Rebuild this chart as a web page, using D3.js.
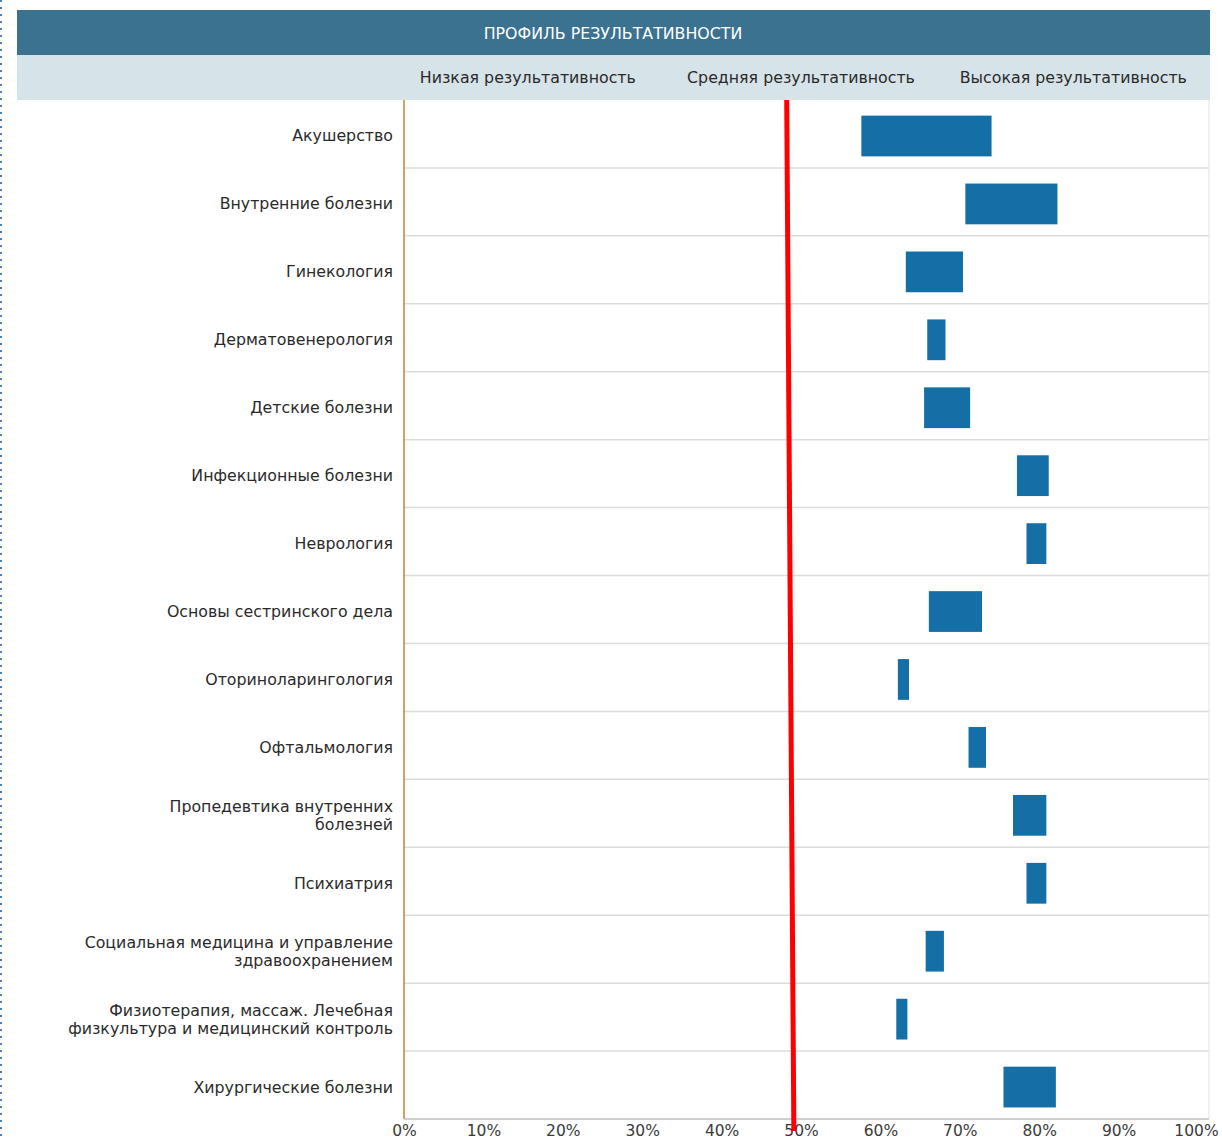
<!DOCTYPE html>
<html>
<head>
<meta charset="utf-8">
<script src="https://cdn.jsdelivr.net/npm/d3@7"></script>
<style>
  body { margin: 0; background: #fff; }
  text { font-family: "DejaVu Sans", sans-serif; }
</style>
</head>
<body>
<div id="chart"></div>
<script>
// Chart data
const title = "ПРОФИЛЬ РЕЗУЛЬТАТИВНОСТИ";
const bandLabels = ["Низкая результативность", "Средняя результативность", "Высокая результативность"];
const categories = [
    "Акушерство",
    "Внутренние болезни",
    "Гинекология",
    "Дерматовенерология",
    "Детские болезни",
    "Инфекционные болезни",
    "Неврология",
    "Основы сестринского дела",
    "Оториноларингология",
    "Офтальмология",
    "Пропедевтика внутренних\nболезней",
    "Психиатрия",
    "Социальная медицина и управление\nздравоохранением",
    "Физиотерапия, массаж. Лечебная\nфизкультура и медицинский контроль",
    "Хирургические болезни"
];
const lowValues  = [57.6, 70.7, 63.2, 65.9, 65.5, 77.2, 78.4, 66.1, 62.2, 71.1, 76.7, 78.4, 65.7, 62.0, 75.5];
const highValues = [74.0, 82.3, 70.4, 68.2, 71.3, 81.2, 80.9, 72.8, 63.6, 73.3, 80.9, 80.9, 68.0, 63.4, 82.1];
const tickValues = [0, 10, 20, 30, 40, 50, 60, 70, 80, 90, 100];
// hand-drawn threshold line (top and bottom ends, %)
const markerValues = [48.2, 49.1];

const data = categories.map((c, i) => ({name: c, lo: lowValues[i], hi: highValues[i]}));

// Layout
const W = 1222, H = 1141;
const margin = {top: 100, left: 404, rightEdge: 1209, bottom: 1119};
const boxLeft = 17, boxTop = 10, titleBottom = 55;

const svg = d3.select("#chart").append("svg")
    .attr("width", W)
    .attr("height", H);

// dotted selection border at the left edge
svg.append("line")
   .attr("x1", 1).attr("x2", 1)
   .attr("y1", 0).attr("y2", H)
   .attr("stroke", "#4a7fd6")
   .attr("stroke-width", 2)
   .attr("stroke-dasharray", "2,5");

// Scales
const x = d3.scaleLinear().domain([0, 100]).range([margin.left, 1198]);
const y = d3.scaleBand().domain(categories).range([margin.top, margin.bottom]).padding(0);

// Header bands
svg.append("rect")
   .attr("x", boxLeft).attr("y", boxTop)
   .attr("width", margin.rightEdge + 1 - boxLeft).attr("height", titleBottom - boxTop)
   .attr("fill", "#3b7290");
svg.append("rect")
   .attr("x", boxLeft).attr("y", titleBottom)
   .attr("width", margin.rightEdge + 1 - boxLeft).attr("height", margin.top - titleBottom)
   .attr("fill", "#d6e3e8");

svg.append("text")
   .attr("x", (boxLeft + margin.rightEdge) / 2)
   .attr("y", (boxTop + titleBottom) / 2 + 1)
   .attr("dy", "0.35em")
   .attr("text-anchor", "middle")
   .attr("fill", "#fff")
   .style("font-size", "15.8px")
   .text(title);

const bandCenters = [15.6, 50, 84.3];
svg.selectAll(".band-label")
   .data(bandLabels)
   .enter()
   .append("text")
   .attr("class", "band-label")
   .attr("x", (d, i) => x(bandCenters[i]))
   .attr("y", (titleBottom + margin.top) / 2)
   .attr("dy", "0.35em")
   .attr("text-anchor", "middle")
   .attr("fill", "#2a2a2a")
   .style("font-size", "15.8px")
   .text(d => d);

// Row separators
svg.append("g")
   .selectAll("line")
   .data(categories)
   .enter()
   .append("line")
   .attr("x1", margin.left).attr("x2", margin.rightEdge)
   .attr("y1", d => y(d) + y.bandwidth())
   .attr("y2", d => y(d) + y.bandwidth())
   .attr("stroke", "#dcdcdc")
   .attr("stroke-width", 1.5);

// right border
svg.append("line")
   .attr("x1", margin.rightEdge).attr("x2", margin.rightEdge)
   .attr("y1", margin.top).attr("y2", margin.bottom)
   .attr("stroke", "#e2e2e2");

// Bottom axis
const xAxis = svg.append("g")
   .attr("transform", `translate(0,${margin.bottom})`)
   .call(d3.axisBottom(x).tickValues(tickValues).tickSize(0).tickPadding(6).tickFormat(d => d + "%"));
xAxis.select(".domain").attr("stroke", "#cfcfcf").attr("stroke-width", 2)
     .attr("d", `M${margin.left},0H${margin.rightEdge}`);
xAxis.selectAll("text")
     .attr("fill", "#3a3a3a")
     .style("font-size", "15.5px")
     .style("font-family", "DejaVu Sans, sans-serif");
xAxis.selectAll(".tick").filter(d => d === 100).select("text").attr("dx", "-2");

// Left axis line
svg.append("line")
   .attr("x1", margin.left).attr("x2", margin.left)
   .attr("y1", margin.top).attr("y2", margin.bottom)
   .attr("stroke", "#c0803e")
   .attr("stroke-width", 1.5);

// Category labels
const labels = svg.append("g")
   .selectAll("text")
   .data(data)
   .enter()
   .append("text")
   .attr("x", margin.left - 11)
   .attr("text-anchor", "end")
   .attr("fill", "#2a2a2a")
   .style("font-size", "15.8px");
labels.each(function(d) {
    const lines = d.name.split("\n");
    const cy = y(d.name) + y.bandwidth() / 2;
    const lh = 18;
    const start = cy - (lines.length - 1) * lh / 2 + 2;
    lines.forEach((ln, j) => {
        d3.select(this).append("tspan")
          .attr("x", margin.left - 11)
          .attr("y", start + j * lh)
          .attr("dy", "0.35em")
          .text(ln);
    });
});

// Range bars
svg.append("g")
   .selectAll("rect")
   .data(data)
   .enter()
   .append("rect")
   .attr("x", d => x(d.lo))
   .attr("y", d => y(d.name) + y.bandwidth() * 0.23)
   .attr("width", d => x(d.hi) - x(d.lo))
   .attr("height", y.bandwidth() * 0.6)
   .attr("fill", "#146fa7");

// Threshold line
svg.append("line")
   .attr("x1", x(markerValues[0])).attr("y1", margin.top)
   .attr("x2", x(markerValues[1])).attr("y2", margin.bottom + 12)
   .attr("stroke", "#f00")
   .attr("stroke-width", 5);
</script>
</body>
</html>
